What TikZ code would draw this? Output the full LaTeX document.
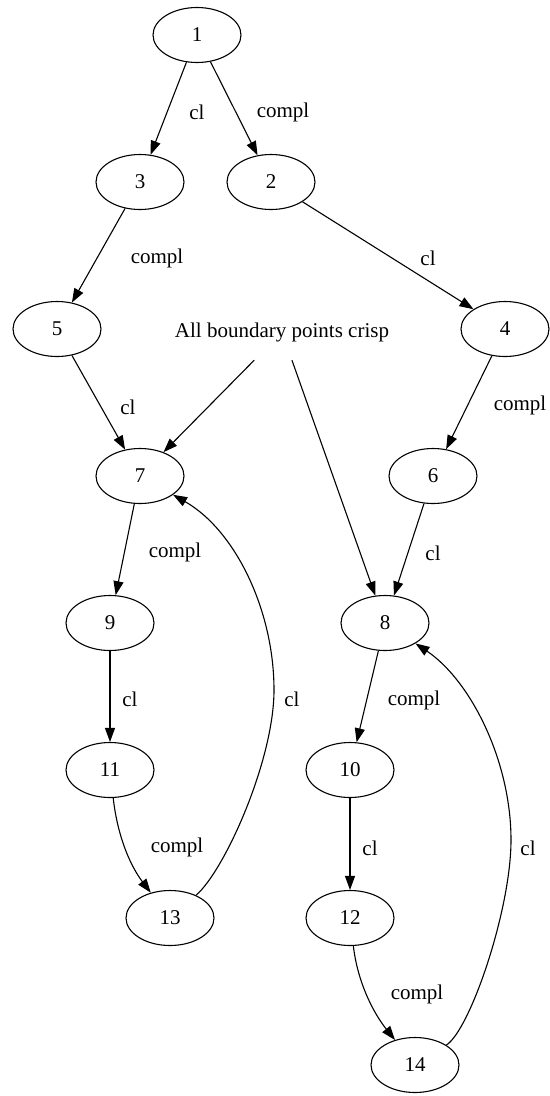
\documentclass[tikz,border=0pt]{standalone}
\usepackage{fontspec}
\setmainfont{Liberation Serif}
\usetikzlibrary{arrows.meta,shapes.geometric}
\begin{document}
\begin{tikzpicture}[x=1bp,y=-1bp,
  font=\fontsize{21bp}{25bp}\selectfont,
  st/.style={draw,ellipse,line width=1.1bp,minimum width=88bp,minimum height=55bp,inner sep=0pt},
  txt/.style={rectangle,minimum height=56bp,inner sep=0pt},
  lbl/.style={inner sep=0pt},
  arr/.style={line width=1.1bp,-{Triangle[length=14bp,width=10bp]}}]
\useasboundingbox (0,0) rectangle (550,1096);
% nodes
\node[st] (n1)  at (197,35)   {1};
\node[st] (n3)  at (140,182)  {3};
\node[st] (n2)  at (271,182)  {2};
\node[st] (n5)  at (57,329)   {5};
\node[st] (n4)  at (505,329)  {4};
\node[txt] (all) at (282,332) {All boundary points crisp};
\node[st] (n7)  at (140,476)  {7};
\node[st] (n6)  at (433,476)  {6};
\node[st] (n9)  at (110,623)  {9};
\node[st] (n8)  at (385,623)  {8};
\node[st] (n11) at (110,770)  {11};
\node[st] (n10) at (350,770)  {10};
\node[st] (n13) at (170,918)  {13};
\node[st] (n12) at (350,918)  {12};
\node[st] (n14) at (415,1065) {14};
\coordinate (c1) at (274,690);
\coordinate (c2) at (511,840);
% edges
\draw[arr] (n1) -- (n3);
\draw[arr] (n1) -- (n2);
\draw[arr] (n3) -- (n5);
\draw[arr] (n2) -- (n4);
\draw[arr] (n5) -- (n7);
\draw[arr] (all) -- (n7);
\draw[arr] (all) -- (n8);
\draw[arr] (n4) -- (n6);
\draw[arr] (n6) -- (n8);
\draw[arr] (n7) -- (n9);
\draw[arr] (n8) -- (n10);
\draw[arr] (n9) -- (n11);
\draw[arr] (n10) -- (n12);
\draw[arr] (n11) .. controls (118,840) and (132,868) .. (n13);
\draw[arr] (n12) .. controls (358,985) and (375,1015) .. (n14);
\draw[arr] (n13) .. controls (225,870) and (274,760) .. (c1) .. controls (274,610) and (235,530) .. (n7);
\draw[arr] (n14) .. controls (470,1030) and (511,910) .. (c2) .. controls (511,760) and (470,680) .. (n8);
% labels
\node[lbl] (l13) at (197,112) {cl};
\node[lbl] (l12) at (283,112) {compl};
\node[lbl] (l35) at (157,258) {compl};
\node[lbl] (l24) at (428,258) {cl};
\node[lbl] (l57) at (128,407) {cl};
\node[lbl] (l46) at (520,405) {compl};
\node[lbl] (l79) at (175,552) {compl};
\node[lbl] (l68) at (433,553) {cl};
\node[lbl] (l911) at (130,699) {cl};
\node[lbl] (l810) at (414,700) {compl};
\node[lbl] (l137) at (292,699) {cl};
\node[lbl] (l1113) at (177,847) {compl};
\node[lbl] (l1012) at (370,848) {cl};
\node[lbl] (l148) at (528,848) {cl};
\node[lbl] (l1214) at (417,994) {compl};
\end{tikzpicture}
\end{document}
